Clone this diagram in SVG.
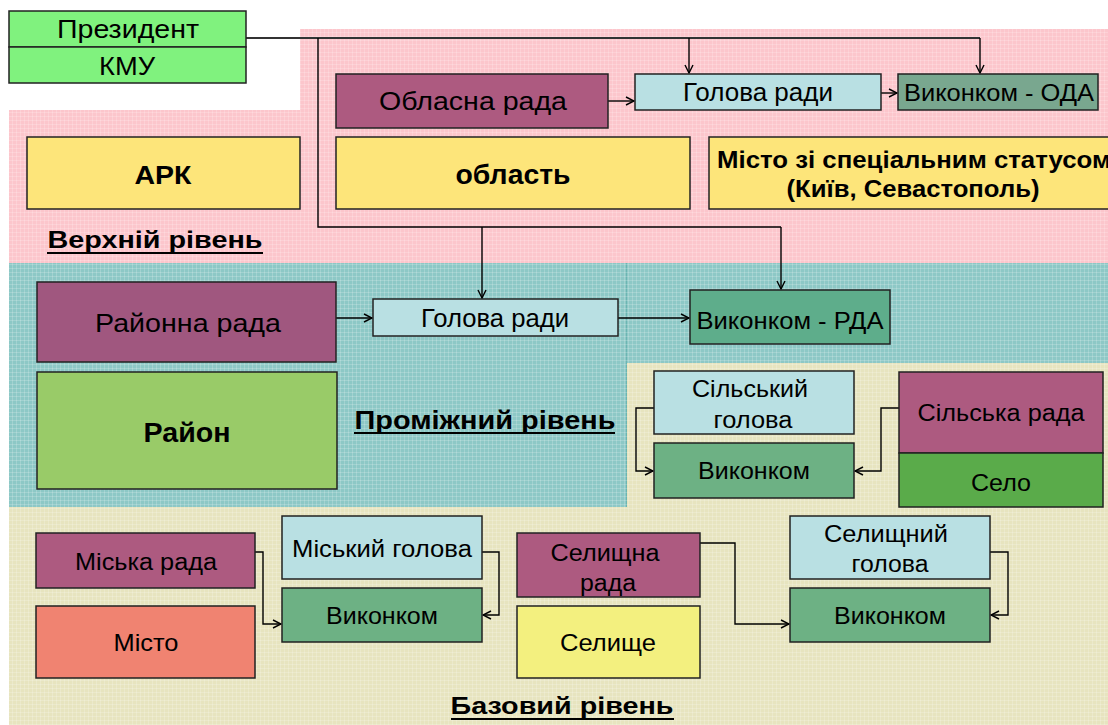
<svg xmlns="http://www.w3.org/2000/svg" width="1108" height="725" viewBox="0 0 1108 725">
<defs>
<style>
text{font-family:"Liberation Sans",Arial,sans-serif;fill:#000;text-anchor:middle}
.b{font-weight:bold}
.box{stroke:#222;stroke-width:1.5}
.c{fill:none;stroke:#000;stroke-width:1.4}
.mauve{fill:#AD5A80}
.lblue{fill:#B9E0E3}
.gv{fill:#6DB184}
.yel{fill:#FDE57A}
.u{stroke:#000;stroke-width:2.2}
</style>
<pattern id="grid" width="4" height="4" patternUnits="userSpaceOnUse">
<path d="M0 0.5H4M0.5 0V4" stroke="#fff" stroke-opacity="0.18" stroke-width="1"/>
</pattern>
<marker id="ah" markerWidth="10" markerHeight="10" refX="9" refY="5" orient="auto" markerUnits="userSpaceOnUse">
<path d="M1 1L9 5L1 9" fill="none" stroke="#000" stroke-width="1.4"/>
</marker>
</defs>
<rect width="1108" height="725" fill="#fff"/>
<g id="bands">
<polygon points="300,29 1108,29 1108,263 9,263 9,110 300,110" fill="#FCC6CC"/>
<rect x="9" y="263" width="617" height="244" fill="#8DC8C6"/>
<rect x="626" y="263" width="482" height="100" fill="#8DC8C6"/>
<rect x="627" y="363" width="481" height="144" fill="#E7E4BF"/>
<rect x="9" y="507" width="1099" height="218" fill="#E7E4BF"/>
<line x1="626.5" y1="263" x2="626.5" y2="507" stroke="#6BB5B2" stroke-width="1"/>
<polygon points="300,29 1108,29 1108,725 9,725 9,110 300,110" fill="url(#grid)"/>
</g>
<g id="connectors">
<polyline class="c" points="246,38 980,38" style="stroke:#333;stroke-width:1.8"/>
<polyline class="c" points="318,38 318,227 781,227"/>
<line class="c" x1="689" y1="38" x2="689" y2="73" marker-end="url(#ah)"/>
<line class="c" x1="980" y1="38" x2="980" y2="73" marker-end="url(#ah)"/>
<line class="c" x1="482" y1="227" x2="482" y2="298" marker-end="url(#ah)"/>
<line class="c" x1="781" y1="227" x2="781" y2="289" marker-end="url(#ah)"/>
<line class="c" x1="608" y1="101" x2="634" y2="101" marker-end="url(#ah)"/>
<line class="c" x1="881" y1="93" x2="897" y2="93" marker-end="url(#ah)"/>
<line class="c" x1="336" y1="318" x2="372" y2="318" marker-end="url(#ah)"/>
<line class="c" x1="618" y1="318" x2="689" y2="318" marker-end="url(#ah)"/>
<polyline class="c" points="654,408 636,408 636,471 653,471" marker-end="url(#ah)"/>
<polyline class="c" points="899,408 881,408 881,471 855,471" marker-end="url(#ah)"/>
<polyline class="c" points="255,552 263,552 263,624 281,624" marker-end="url(#ah)"/>
<polyline class="c" points="482,552 499,552 499,615 483,615" marker-end="url(#ah)"/>
<polyline class="c" points="700,543 735,543 735,624 789,624" marker-end="url(#ah)"/>
<polyline class="c" points="990,552 1008,552 1008,615 991,615" marker-end="url(#ah)"/>
</g>
<g id="president">
<rect class="box" x="9" y="11" width="237" height="36" fill="#80F27E"/>
<text x="128" y="38" font-size="26" textLength="142" lengthAdjust="spacingAndGlyphs">Президент</text>
</g>
<g id="kmu">
<rect class="box" x="9" y="47" width="237" height="36" fill="#80F27E"/>
<text x="127" y="75" font-size="26" textLength="56" lengthAdjust="spacingAndGlyphs">КМУ</text>
</g>
<g id="oblasna-rada">
<rect class="box mauve" x="336" y="74" width="272" height="54"/>
<text x="473" y="110" font-size="26" textLength="188" lengthAdjust="spacingAndGlyphs">Обласна рада</text>
</g>
<g id="holova-rady-obl">
<rect class="box lblue" x="635" y="74" width="246" height="36"/>
<text x="758" y="101" font-size="25" textLength="150" lengthAdjust="spacingAndGlyphs">Голова ради</text>
</g>
<g id="vykonkom-oda">
<rect class="box" x="898" y="74" width="200" height="36" fill="#79A78F"/>
<text x="999" y="101" font-size="24" textLength="190" lengthAdjust="spacingAndGlyphs">Виконком - ОДА</text>
</g>
<g id="ark">
<rect class="box yel" x="27" y="137" width="273" height="72"/>
<text class="b" x="163" y="184" font-size="26" textLength="57" lengthAdjust="spacingAndGlyphs">АРК</text>
</g>
<g id="oblast">
<rect class="box yel" x="336" y="137" width="354" height="72"/>
<text class="b" x="513" y="184" font-size="27" textLength="115" lengthAdjust="spacingAndGlyphs">область</text>
</g>
<g id="misto-special">
<rect class="box yel" x="709" y="137" width="420" height="72"/>
<text class="b" x="914" y="168" font-size="23" textLength="394" lengthAdjust="spacingAndGlyphs">Місто зі спеціальним статусом</text>
<text class="b" x="913" y="197" font-size="23" textLength="253" lengthAdjust="spacingAndGlyphs">(Київ, Севастополь)</text>
</g>
<g id="verkhnii">
<text class="b" x="155" y="248" font-size="24" textLength="215" lengthAdjust="spacingAndGlyphs">Верхній рівень</text>
<line class="u" x1="47" y1="253" x2="263" y2="253"/>
</g>
<g id="raionna-rada">
<rect class="box" x="37" y="282" width="299" height="80" fill="#A0577F"/>
<text x="188" y="332" font-size="26" textLength="186" lengthAdjust="spacingAndGlyphs">Районна рада</text>
</g>
<g id="holova-rady-raion">
<rect class="box lblue" x="373" y="299" width="245" height="37"/>
<text x="495" y="327" font-size="25" textLength="148" lengthAdjust="spacingAndGlyphs">Голова ради</text>
</g>
<g id="vykonkom-rda">
<rect class="box" x="690" y="290" width="200" height="54" fill="#5EAD8B"/>
<text x="790" y="329" font-size="24" textLength="187" lengthAdjust="spacingAndGlyphs">Виконком - РДА</text>
</g>
<g id="raion">
<rect class="box" x="37" y="372" width="300" height="117" fill="#99CB68"/>
<text class="b" x="187" y="442" font-size="27" textLength="87" lengthAdjust="spacingAndGlyphs">Район</text>
</g>
<g id="promizhnyi">
<text class="b" x="485" y="429" font-size="26" textLength="261" lengthAdjust="spacingAndGlyphs">Проміжний рівень</text>
<line class="u" x1="354" y1="433" x2="615" y2="433"/>
</g>
<g id="silskyi-holova">
<rect class="box lblue" x="654" y="371" width="200" height="63"/>
<text x="750" y="397" font-size="23" textLength="116" lengthAdjust="spacingAndGlyphs">Сільський</text>
<text x="753" y="428" font-size="23" textLength="79" lengthAdjust="spacingAndGlyphs">голова</text>
</g>
<g id="vykonkom-selo">
<rect class="box gv" x="654" y="443" width="200" height="55"/>
<text x="754" y="479" font-size="23" textLength="112" lengthAdjust="spacingAndGlyphs">Виконком</text>
</g>
<g id="silska-rada">
<rect class="box mauve" x="899" y="372" width="204" height="81"/>
<text x="1001" y="421" font-size="23" textLength="167" lengthAdjust="spacingAndGlyphs">Сільська рада</text>
</g>
<g id="selo">
<rect class="box" x="899" y="453" width="204" height="54" fill="#5AAB4A"/>
<text x="1001" y="491" font-size="23" textLength="60" lengthAdjust="spacingAndGlyphs">Село</text>
</g>
<g id="miska-rada">
<rect class="box mauve" x="36" y="533" width="219" height="55"/>
<text x="146" y="570" font-size="23" textLength="142" lengthAdjust="spacingAndGlyphs">Міська рада</text>
</g>
<g id="misto">
<rect class="box" x="36" y="606" width="219" height="72" fill="#F08371"/>
<text x="146" y="651" font-size="23" textLength="65" lengthAdjust="spacingAndGlyphs">Місто</text>
</g>
<g id="miskyi-holova">
<rect class="box lblue" x="282" y="516" width="200" height="63"/>
<text x="382" y="557" font-size="23" textLength="180" lengthAdjust="spacingAndGlyphs">Міський голова</text>
</g>
<g id="vykonkom-misto">
<rect class="box gv" x="282" y="588" width="200" height="54"/>
<text x="382" y="624" font-size="23" textLength="112" lengthAdjust="spacingAndGlyphs">Виконком</text>
</g>
<g id="selyshchna-rada">
<rect class="box mauve" x="517" y="533" width="183" height="64"/>
<text x="605" y="561" font-size="23" textLength="109" lengthAdjust="spacingAndGlyphs">Селищна</text>
<text x="608" y="591" font-size="23" textLength="56" lengthAdjust="spacingAndGlyphs">рада</text>
</g>
<g id="selyshche">
<rect class="box" x="517" y="606" width="183" height="72" fill="#F3F07F"/>
<text x="608" y="651" font-size="23" textLength="96" lengthAdjust="spacingAndGlyphs">Селище</text>
</g>
<g id="selyshchnyi-holova">
<rect class="box lblue" x="790" y="516" width="200" height="63"/>
<text x="886" y="542" font-size="23" textLength="124" lengthAdjust="spacingAndGlyphs">Селищний</text>
<text x="890" y="572" font-size="23" textLength="77" lengthAdjust="spacingAndGlyphs">голова</text>
</g>
<g id="vykonkom-selyshche">
<rect class="box gv" x="790" y="588" width="200" height="54"/>
<text x="890" y="624" font-size="23" textLength="112" lengthAdjust="spacingAndGlyphs">Виконком</text>
</g>
<g id="bazovyi">
<text class="b" x="562" y="714" font-size="24" textLength="223" lengthAdjust="spacingAndGlyphs">Базовий рівень</text>
<line class="u" x1="451" y1="719" x2="674" y2="719"/>
</g>
</svg>
